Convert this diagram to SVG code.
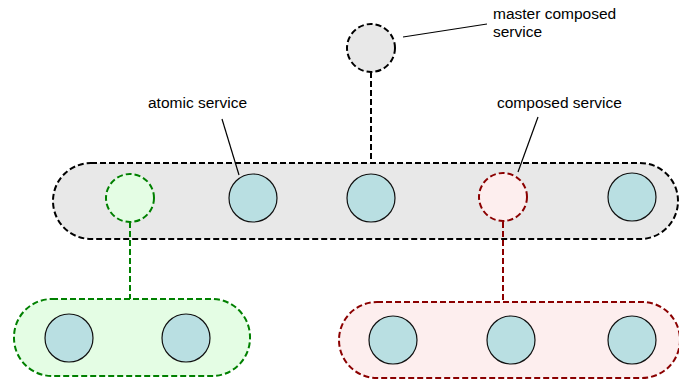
<svg xmlns="http://www.w3.org/2000/svg" width="679" height="380" viewBox="0 0 679 380">
  <style>
    .lbl { font-family: "Liberation Sans", Arial, sans-serif; font-size: 15.5px; fill: #000; }
    .lead { stroke: #000; stroke-width: 1.2; fill: none; }
    .dash { stroke-width: 2; stroke-dasharray: 6 3; }
    .grp-grey { fill: #e8e8e8; stroke: #000; }
    .grp-green { fill: #e4fde4; stroke: #008000; }
    .grp-red { fill: #fdeeee; stroke: #8b0000; }
    .atomic { fill: #b9dfe2; stroke: #111; stroke-width: 1.2; }
    .link-black { stroke: #000; }
    .link-green { stroke: #008000; }
    .link-red { stroke: #8b0000; }
  </style>

  <!-- group containers -->
  <g id="group-main">
    <rect class="grp-grey dash" x="53" y="163" width="625" height="76" rx="38" ry="38"/>
  </g>
  <g id="group-green">
    <rect class="grp-green dash" x="14" y="299" width="236" height="77" rx="38" ry="38"/>
  </g>
  <g id="group-red">
    <rect class="grp-red dash" x="339" y="302" width="341" height="76" rx="38" ry="38"/>
  </g>

  <!-- connectors -->
  <g id="connectors" fill="none">
    <line class="dash link-black" x1="371" y1="72" x2="371" y2="163"/>
    <line class="dash link-green" x1="130" y1="222" x2="130" y2="299"/>
    <line class="dash link-red" x1="503" y1="222" x2="503" y2="302"/>
    <line class="lead" x1="403" y1="37" x2="487" y2="24"/>
    <line class="lead" x1="222" y1="119" x2="239" y2="175"/>
    <line class="lead" x1="538" y1="117" x2="518" y2="172"/>
  </g>

  <!-- services -->
  <g id="master-composed">
    <circle class="grp-grey dash" cx="371" cy="48" r="24"/>
  </g>
  <g id="composed-green">
    <circle class="grp-green dash" cx="130" cy="198" r="24"/>
  </g>
  <g id="atomic-1"><circle class="atomic" cx="253" cy="198" r="24"/></g>
  <g id="atomic-2"><circle class="atomic" cx="371" cy="198" r="24"/></g>
  <g id="composed-red">
    <circle class="grp-red dash" cx="503" cy="197" r="24"/>
  </g>
  <g id="atomic-3"><circle class="atomic" cx="632" cy="197" r="24"/></g>

  <g id="atomic-4"><circle class="atomic" cx="69" cy="338" r="24"/></g>
  <g id="atomic-5"><circle class="atomic" cx="186" cy="338" r="24"/></g>
  <g id="atomic-6"><circle class="atomic" cx="393" cy="340" r="24"/></g>
  <g id="atomic-7"><circle class="atomic" cx="511" cy="340" r="24"/></g>
  <g id="atomic-8"><circle class="atomic" cx="632" cy="340" r="24"/></g>

  <!-- labels -->
  <g id="labels">
    <text class="lbl" x="493" y="19">master composed</text>
    <text class="lbl" x="493" y="37">service</text>
    <text class="lbl" x="148" y="108">atomic service</text>
    <text class="lbl" x="497" y="108">composed service</text>
  </g>
</svg>
